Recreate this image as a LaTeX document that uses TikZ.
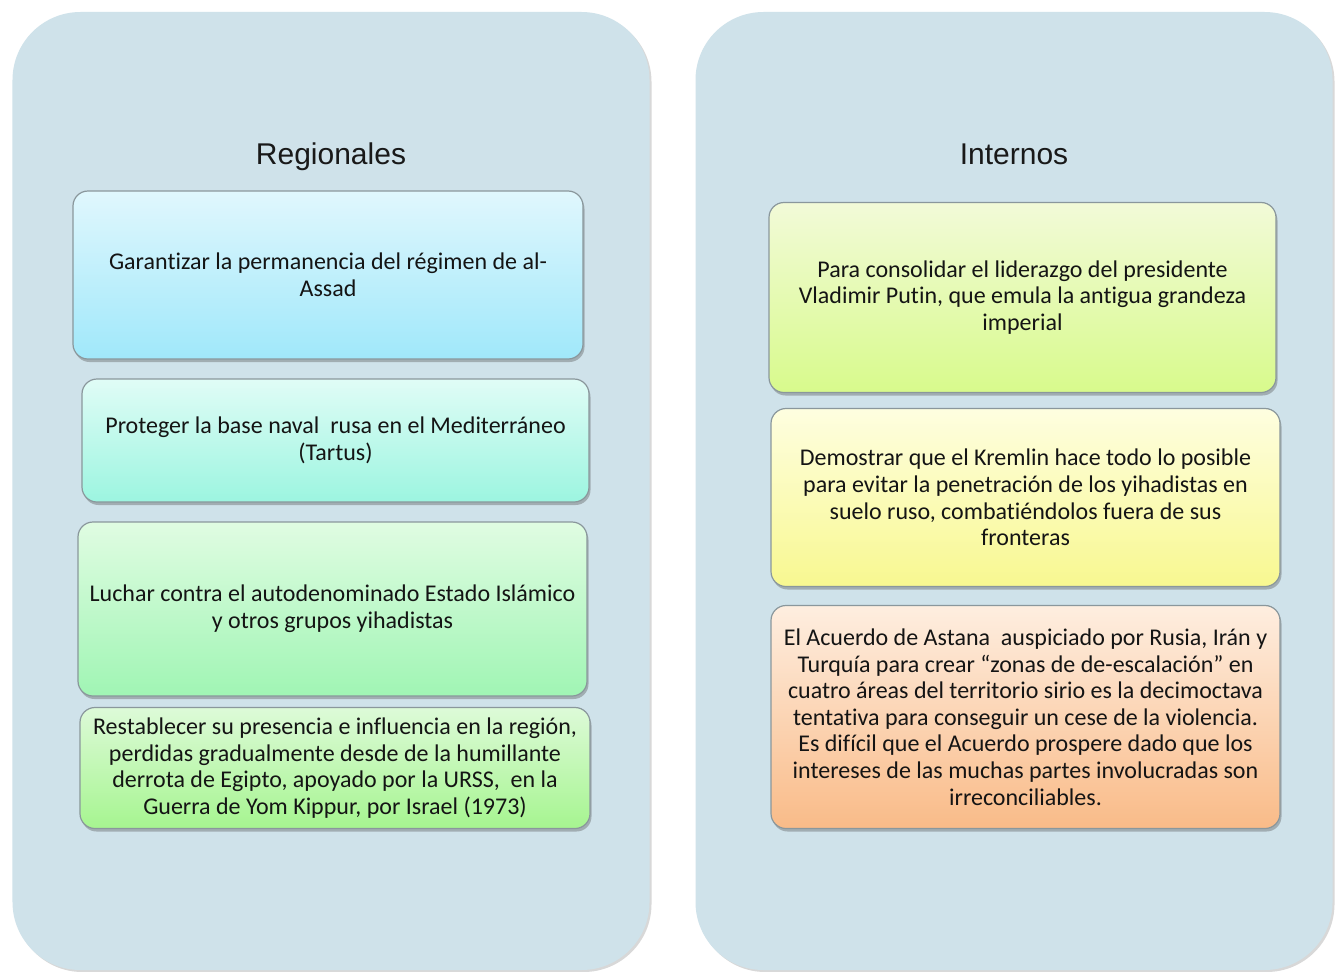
\documentclass[tikz,border=0pt]{standalone}
\usepackage{fontspec}
\setmainfont{Carlito}[Ligatures=NoCommon]
\newfontfamily\titlefont{Liberation Sans}
\usetikzlibrary{shadows}
\definecolor{panelc}{HTML}{CFE2EA}
\definecolor{edgec}{HTML}{8A979C}
\begin{document}
\begin{tikzpicture}[x=1bp,y=-1bp,
  panel/.style={fill=panelc, rounded corners=68bp, inner sep=0pt,
    minimum width=637bp, minimum height=958bp,
    drop shadow={shadow xshift=2bp, shadow yshift=-2bp, opacity=0.25, fill=black!60}},
  ttl/.style={font=\titlefont\fontsize{30bp}{34bp}\selectfont, text=black!90, anchor=base, inner sep=0pt},
  box/.style={draw=edgec, line width=1.2bp, rounded corners=15bp, inner sep=0pt,
    align=center, text=black!92, font=\fontsize{24bp}{26.6bp}\selectfont,
    drop shadow={shadow xshift=1.5bp, shadow yshift=-3bp, opacity=0.35, fill=black!70}}
]
\useasboundingbox (0,0) rectangle (1335,971);
\fill[white] (0,0) rectangle (1335,971);

\node[panel] (pl) at (331,491) {};
\node[panel] (pr) at (1014,491) {};

\node[ttl] (tl) at (331,164) {Regionales};
\node[ttl] (tr) at (1014,164) {Internos};

\node[box, minimum width=510bp, minimum height=168bp,
  top color={rgb,255:red,224;green,247;blue,253}, bottom color={rgb,255:red,160;green,232;blue,250}]
  (l1) at (328,275) {Garantizar la permanencia del régimen de al-\\Assad};
\node[box, minimum width=507bp, minimum height=123bp,
  top color={rgb,255:red,224;green,252;blue,246}, bottom color={rgb,255:red,156;green,245;blue,224}]
  (l2) at (335.5,440.5) {Proteger la base naval \ rusa en el Mediterráneo\\(Tartus)};
\node[box, minimum width=509bp, minimum height=174bp,
  top color={rgb,255:red,224;green,252;blue,226}, bottom color={rgb,255:red,160;green,245;blue,180}]
  (l3) at (332.5,609) {Luchar contra el autodenominado Estado Islámico\\y otros grupos yihadistas};
\node[box, minimum width=510bp, minimum height=121bp,
  top color={rgb,255:red,221;green,250;blue,216}, bottom color={rgb,255:red,166;green,245;blue,144}]
  (l4) at (335,768) {Restablecer su presencia e influencia en la región,\\perdidas gradualmente desde de la humillante\\derrota de Egipto, apoyado por la URSS, \ en la\\Guerra de Yom Kippur, por Israel (1973)};

\node[box, minimum width=507bp, minimum height=190bp,
  top color={rgb,255:red,242;green,250;blue,216}, bottom color={rgb,255:red,216;green,250;blue,140}]
  (r1) at (1022.5,297.5) {Para consolidar el liderazgo del presidente\\Vladimir Putin, que emula la antigua grandeza\\imperial};
\node[box, minimum width=509bp, minimum height=178bp,
  top color={rgb,255:red,254;green,254;blue,224}, bottom color={rgb,255:red,248;green,248;blue,144}]
  (r2) at (1025.5,497.5) {Demostrar que el Kremlin hace todo lo posible\\para evitar la penetración de los yihadistas en\\suelo ruso, combatiéndolos fuera de sus\\fronteras};
\node[box, minimum width=509bp, minimum height=223bp,
  top color={rgb,255:red,254;green,238;blue,224}, bottom color={rgb,255:red,249;green,187;blue,136}]
  (r3) at (1025.5,717) {El Acuerdo de Astana \ auspiciado por Rusia, Irán y\\Turquía para crear “zonas de de-escalación” en\\cuatro áreas del territorio sirio es la decimoctava\\tentativa para conseguir un cese de la violencia.\\Es difícil que el Acuerdo prospere dado que los\\intereses de las muchas partes involucradas son\\irreconciliables.};
\end{tikzpicture}
\end{document}
